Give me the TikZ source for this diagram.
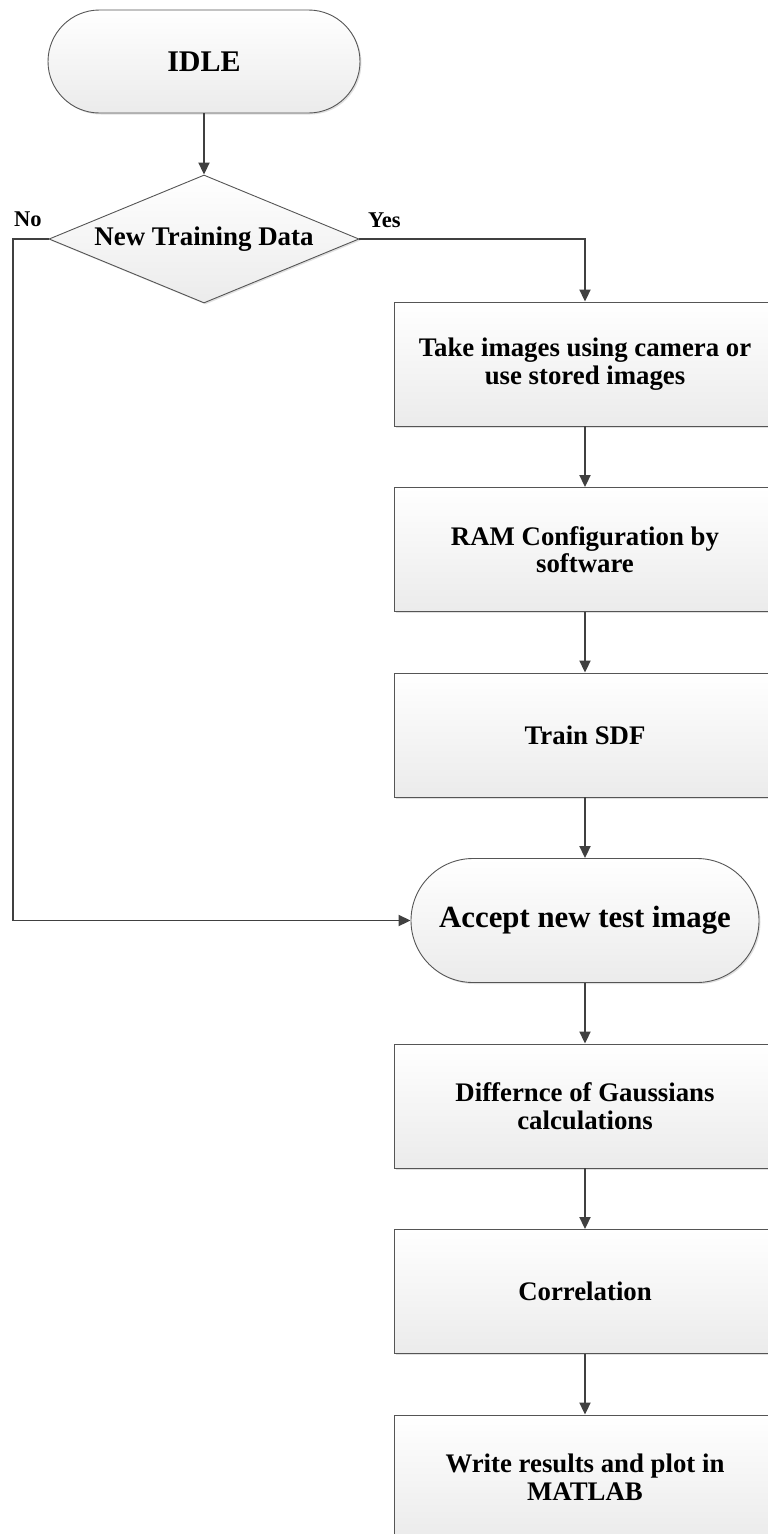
\documentclass[tikz,border=0pt]{standalone}
\usepackage{fontspec}
\setmainfont{Liberation Serif}
\usetikzlibrary{shapes.geometric,arrows.meta,shadows}

\definecolor{edgegray}{HTML}{555555}
\definecolor{linegray}{HTML}{404040}
\definecolor{fillbottom}{HTML}{EBEBEB}

\tikzset{
  shapebase/.style={draw=edgegray, line width=0.9pt, top color=white,
    bottom color=fillbottom, align=center, inner sep=0pt,
    font=\bfseries\fontsize{26.8}{27.5}\selectfont,
    drop shadow={shadow xshift=1.5pt, shadow yshift=-1.5pt, fill=black, opacity=0.12}},
  procbox/.style={shapebase, rectangle, minimum width=382pt, minimum height=124pt},
  idlebox/.style={shapebase, rectangle, rounded corners=51.5pt,
    minimum width=312pt, minimum height=103pt, font=\bfseries\fontsize{30}{32}\selectfont},
  acceptbox/.style={shapebase, rectangle, rounded corners=62pt,
    minimum width=348pt, minimum height=124pt, font=\bfseries\fontsize{30.8}{32}\selectfont},
  decision/.style={shapebase, diamond, aspect=2.42, minimum width=310pt,
    minimum height=128pt, font=\bfseries\fontsize{26.9}{28}\selectfont},
  flow/.style={draw=linegray, line width=1.9pt, -{Triangle[length=12pt,width=11pt]}},
  branch/.style={font=\bfseries\fontsize{22.5}{24}\selectfont, inner sep=0pt, anchor=base west},
}

\begin{document}
\begin{tikzpicture}[x=1pt, y=-1pt]
  \useasboundingbox (0,0) rectangle (768,1534);
  \clip (0,0) rectangle (768,1534);

  % start state and decision
  \node[idlebox] (idle) at (204,61.5) {IDLE};
  \node[decision] (dec) at (204,239) {New Training Data};

  % training branch
  \node[procbox] (b1) at (585,364) {Take images using camera or\\use stored images};
  \node[procbox] (b2) at (585,549.5) {RAM Configuration by\\software};
  \node[procbox] (b3) at (585,735) {Train SDF};

  % test branch
  \node[acceptbox] (acc) at (585,920.5) {Accept new test image};
  \node[procbox] (b4) at (585,1106) {Differnce of Gaussians\\calculations};
  \node[procbox] (b5) at (585,1291.5) {Correlation};
  \node[procbox] (b6) at (585,1477) {Write results and plot in\\MATLAB};

  % branch labels
  \node[branch] (nolabel) at (14,226) {No};
  \node[branch] (yeslabel) at (368,227) {Yes};

  \coordinate (nobend) at (13,239);

  % connectors
  \draw[flow] (idle.south) -- (dec.north);
  \draw[flow] (dec.east) -| (b1.north);
  \draw[flow] (b1.south) -- (b2.north);
  \draw[flow] (b2.south) -- (b3.north);
  \draw[flow] (b3.south) -- (acc.north);
  \draw[flow] (dec.west) -- (nobend) |- (acc.west);
  \draw[flow] (acc.south) -- (b4.north);
  \draw[flow] (b4.south) -- (b5.north);
  \draw[flow] (b5.south) -- (b6.north);
\end{tikzpicture}
\end{document}
